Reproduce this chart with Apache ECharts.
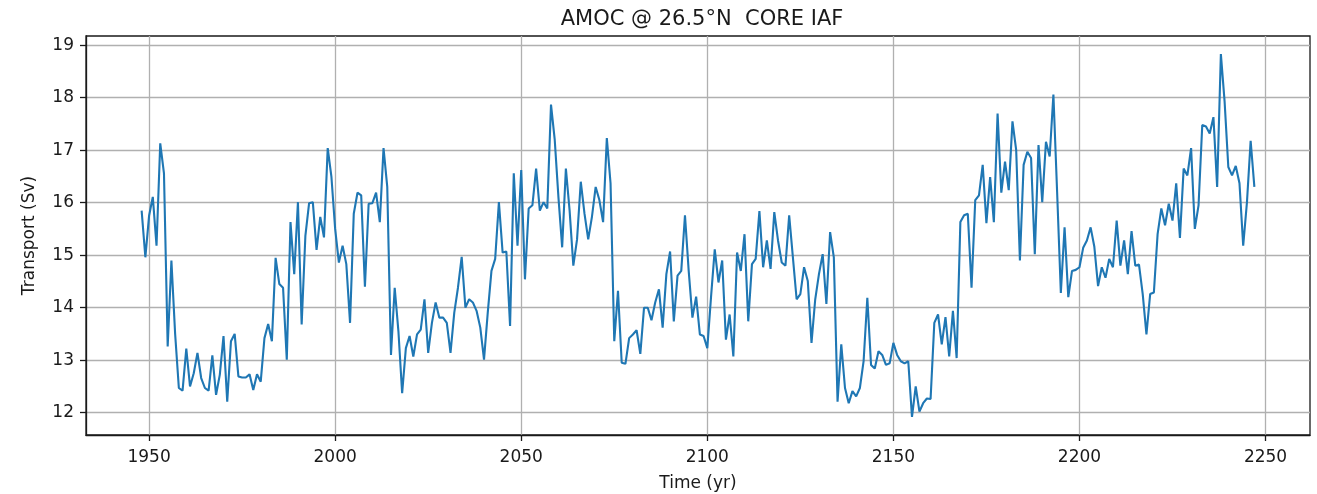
<!DOCTYPE html>
<html><head><meta charset="utf-8">
<script src="https://cdn.jsdelivr.net/npm/echarts@6/dist/echarts.min.js"></script>
<style>html,body{margin:0;padding:0;background:#fff}#chart{width:1317px;height:494px}</style>
</head><body><div id="chart"></div>
<script>
const START_YEAR = 1948;
// Transport (Sv), one value per model year
const years1948_2007 = [
  15.85, 14.96, 15.75, 16.11, 15.18, 17.13, 16.56, 13.26, 14.90, 13.50,
  12.47, 12.42, 13.22, 12.50, 12.75, 13.14, 12.66, 12.47, 12.42, 13.09,
  12.34, 12.72, 13.46, 12.21, 13.36, 13.50, 12.69, 12.67, 12.67, 12.73,
  12.43, 12.73, 12.59, 13.42, 13.69, 13.36, 14.95, 14.45, 14.38, 13.01,
  15.63, 14.64, 16.01, 13.68, 15.37, 15.99, 16.01, 15.10, 15.73, 15.34,
  17.04, 16.49, 15.50, 14.86, 15.18, 14.83, 13.71, 15.79, 16.19, 16.14
];
const years2008_2067 = [
  14.40, 15.98, 15.99, 16.19, 15.63, 17.04, 16.30, 13.10, 14.38, 13.55,
  12.37, 13.23, 13.46, 13.07, 13.49, 13.58, 14.16, 13.14, 13.71, 14.10,
  13.81, 13.81, 13.71, 13.14, 13.90, 14.38, 14.97, 14.00, 14.16, 14.10,
  13.94, 13.62, 13.01, 13.90, 14.70, 14.93, 16.01, 15.05, 15.07, 13.65,
  16.56, 15.18, 16.62, 14.54, 15.89, 15.95, 16.65, 15.85, 16.01, 15.89,
  17.87, 17.20, 16.10, 15.15, 16.65, 15.85, 14.80, 15.30, 16.40, 15.79
];
const years2068_2127 = [
  15.30, 15.73, 16.30, 16.05, 15.63, 17.23, 16.37, 13.36, 14.32, 12.95,
  12.93, 13.42, 13.49, 13.57, 13.12, 14.00, 14.00, 13.76, 14.10, 14.35,
  13.62, 14.64, 15.07, 13.74, 14.61, 14.70, 15.76, 14.70, 13.81, 14.21,
  13.49, 13.46, 13.23, 14.20, 15.11, 14.48, 14.90, 13.39, 13.87, 13.07,
  15.05, 14.70, 15.40, 13.74, 14.83, 14.93, 15.84, 14.77, 15.28, 14.74,
  15.82, 15.28, 14.86, 14.80, 15.76, 14.96, 14.16, 14.26, 14.77, 14.51
];
const years2128_2187 = [
  13.33, 14.16, 14.64, 15.02, 14.07, 15.44, 14.96, 12.21, 13.30, 12.47,
  12.18, 12.41, 12.31, 12.47, 12.98, 14.19, 12.91, 12.84, 13.17, 13.10,
  12.91, 12.94, 13.33, 13.10, 12.98, 12.94, 12.98, 11.92, 12.50, 12.02,
  12.18, 12.27, 12.26, 13.71, 13.87, 13.30, 13.82, 13.07, 13.94, 13.04,
  15.63, 15.76, 15.79, 14.38, 16.05, 16.14, 16.72, 15.61, 16.49, 15.63,
  17.70, 16.19, 16.78, 16.24, 17.55, 17.00, 14.90, 16.72, 16.97, 16.85
];
const years2188_2247 = [
  15.02, 17.10, 16.01, 17.16, 16.88, 18.06, 16.20, 14.28, 15.53, 14.20,
  14.70, 14.72, 14.77, 15.14, 15.28, 15.53, 15.16, 14.41, 14.77, 14.57,
  14.93, 14.77, 15.66, 14.80, 15.28, 14.64, 15.46, 14.80, 14.82, 14.26,
  13.49, 14.26, 14.29, 15.40, 15.89, 15.57, 15.98, 15.66, 16.37, 15.33,
  16.65, 16.52, 17.04, 15.50, 15.95, 17.48, 17.45, 17.32, 17.63, 16.30,
  18.83, 17.93, 16.68, 16.52, 16.70, 16.37, 15.18, 16.00, 17.18, 16.30
];
const xTicks = [1950, 2000, 2050, 2100, 2150, 2200, 2250];
const yTicks = [12, 13, 14, 15, 16, 17, 18, 19];

const transport = [].concat(years1948_2007, years2008_2067, years2068_2127, years2128_2187, years2188_2247);
const seriesData = transport.map((v, i) => [START_YEAR + i, v]);
const firstYear = START_YEAR, lastYear = START_YEAR + transport.length - 1;
const xPad = (lastYear - firstYear) * 0.05;
const yMinV = Math.min(...transport), yMaxV = Math.max(...transport);
const yPad = (yMaxV - yMinV) * 0.05;

const FONT = 'DejaVu Sans';
const TXT = '#1a1a1a';
const chart = echarts.init(document.getElementById('chart'), null, {renderer: 'canvas'});
chart.setOption({
  backgroundColor: '#ffffff',
  animation: false,
  title: {
    text: 'AMOC @ 26.5°N  CORE IAF',
    left: 697, top: 4, textAlign: 'center',
    textStyle: {fontFamily: FONT, fontSize: 21, fontWeight: 'normal', color: TXT}
  },
  grid: {left: 86, right: 7, top: 36, bottom: 59, show: true, borderColor: '#1a1a1a', borderWidth: 1.3,
    backgroundColor: '#fff', containLabel: false, outerBoundsMode: 'none'},
  xAxis: {
    type: 'value', min: firstYear - xPad, max: lastYear + xPad,
    name: 'Time (yr)', nameLocation: 'middle', nameGap: 40,
    nameTextStyle: {fontFamily: FONT, fontSize: 17, color: TXT},
    axisLine: {show: true, onZero: false, lineStyle: {color: '#1a1a1a', width: 1.3}},
    axisTick: {show: true, length: 6, customValues: xTicks, lineStyle: {color: '#1a1a1a', width: 1.3}},
    axisLabel: {customValues: xTicks, margin: 14, fontFamily: FONT, fontSize: 17, color: TXT,
      formatter: v => String(v)},
    splitLine: {show: true, lineStyle: {color: '#b0b0b0', width: 1.3}}
  },
  yAxis: {
    type: 'value', min: yMinV - yPad, max: yMaxV + yPad,
    name: 'Transport (Sv)', nameLocation: 'middle', nameGap: 48, nameRotate: 90,
    nameTextStyle: {fontFamily: FONT, fontSize: 17, color: TXT},
    axisLine: {show: true, lineStyle: {color: '#1a1a1a', width: 1.3}},
    axisTick: {show: true, length: 6, customValues: yTicks, lineStyle: {color: '#1a1a1a', width: 1.3}},
    axisLabel: {customValues: yTicks, margin: 12, fontFamily: FONT, fontSize: 17, color: TXT,
      formatter: v => String(v)},
    splitLine: {show: true, lineStyle: {color: '#b0b0b0', width: 1.3}}
  },
  series: [{
    type: 'line', data: seriesData, showSymbol: false, symbol: 'none',
    lineStyle: {color: '#1f77b4', width: 2.1}, z: 3
  }]
});
</script></body></html>
